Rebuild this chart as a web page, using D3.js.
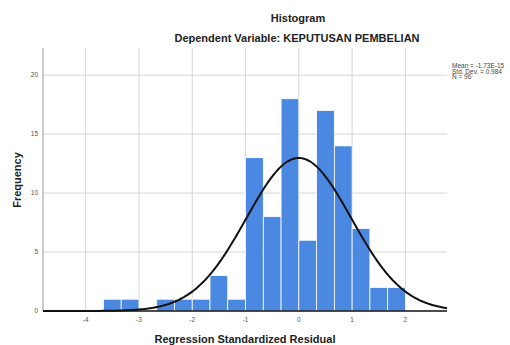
<!DOCTYPE html>
<html>
<head>
<meta charset="utf-8">
<script src="https://cdn.jsdelivr.net/npm/d3@7"></script>
<style>
  body { margin: 0; background: #fff; }
  svg { display: block; font-family: Arial, "Liberation Sans", sans-serif; }
</style>
</head>
<body>
<svg id="chart" width="510" height="345"></svg>
<script>
// histogram data
const binStart = -11 / 3;
const binWidth = 1 / 3;
const counts = [1, 1, 0, 1, 1, 1, 3, 1, 13, 8, 18, 6, 17, 14, 7, 2, 2];
const xTicks = [-4, -3, -2, -1, 0, 1, 2];
const yTicks = [0, 5, 10, 15, 20];
const stats = { mean: -1.73e-15, sd: 0.984, n: 96 };
const legendLines = ['Mean = -1.73E-15', 'Std. Dev. = 0.984', 'N = 96'];

const svg = d3.select('#chart');
const pLeft = 43, pRight = 447, pTop = 48, pBottom = 311;

const x = d3.scaleLinear().domain([-4.8, 2.78]).range([pLeft, pRight]);
const y = d3.scaleLinear().domain([0, 22.3]).range([pBottom, pTop]);

// grid
svg.append('g').selectAll('line')
  .data(yTicks.filter(d => d > 0))
  .enter().append('line')
  .attr('x1', pLeft).attr('x2', pRight)
  .attr('y1', d => y(d)).attr('y2', d => y(d))
  .style('stroke', '#d6d6d6').style('stroke-width', 1);

svg.append('g').selectAll('line')
  .data(xTicks)
  .enter().append('line')
  .attr('x1', d => x(d)).attr('x2', d => x(d))
  .attr('y1', pTop).attr('y2', pBottom)
  .style('stroke', '#d6d6d6').style('stroke-width', 1);

// bars
const bins = counts.map((c, i) => ({
  x0: binStart + i * binWidth,
  x1: binStart + (i + 1) * binWidth,
  count: c
}));

svg.append('g').selectAll('rect')
  .data(bins.filter(d => d.count > 0))
  .enter().append('rect')
  .attr('x', d => x(d.x0))
  .attr('width', d => x(d.x1) - x(d.x0))
  .attr('y', d => y(d.count))
  .attr('height', d => y(0) - y(d.count))
  .style('fill', '#4a88e2')
  .style('stroke', '#fff')
  .style('stroke-width', 0.8);

// normal curve
const pdf = v => Math.exp(-0.5 * Math.pow((v - stats.mean) / stats.sd, 2)) / (stats.sd * Math.sqrt(2 * Math.PI));
const curvePts = d3.range(x.domain()[0], x.domain()[1] + 0.001, 0.02)
  .map(v => [v, stats.n * binWidth * pdf(v)]);

svg.append('path')
  .datum(curvePts)
  .attr('d', d3.line().x(d => x(d[0])).y(d => y(d[1])).curve(d3.curveBasis))
  .style('fill', 'none')
  .style('stroke', '#111')
  .style('stroke-width', 2);

// axes lines
svg.append('line')
  .attr('x1', pLeft).attr('x2', pLeft).attr('y1', pTop).attr('y2', pBottom)
  .style('stroke', '#9a9a9a').style('stroke-width', 1);
svg.append('line')
  .attr('x1', pLeft).attr('x2', pRight).attr('y1', pBottom).attr('y2', pBottom)
  .style('stroke', '#111').style('stroke-width', 1.6);

// tick labels
svg.append('g').selectAll('text')
  .data(yTicks)
  .enter().append('text')
  .attr('x', pLeft - 5).attr('y', d => y(d) + 2)
  .attr('text-anchor', 'end')
  .style('font-size', '6.5px').style('fill', '#555')
  .text(d => d);

svg.append('g').selectAll('text')
  .data(xTicks)
  .enter().append('text')
  .attr('x', d => x(d)).attr('y', pBottom + 11)
  .attr('text-anchor', 'middle')
  .style('font-size', '6.5px').style('fill', '#555')
  .text(d => d);

// titles
svg.append('text')
  .attr('x', 298).attr('y', 22)
  .attr('text-anchor', 'middle')
  .style('font-size', '11px').style('font-weight', 'bold').style('fill', '#222')
  .text('Histogram');

svg.append('text')
  .attr('x', 297).attr('y', 42)
  .attr('text-anchor', 'middle')
  .style('font-size', '11px').style('font-weight', 'bold').style('fill', '#222')
  .text('Dependent Variable: KEPUTUSAN PEMBELIAN');

svg.append('text')
  .attr('transform', 'translate(21,180) rotate(-90)')
  .attr('text-anchor', 'middle')
  .style('font-size', '11px').style('font-weight', 'bold').style('fill', '#222')
  .text('Frequency');

svg.append('text')
  .attr('x', 245).attr('y', 343)
  .attr('text-anchor', 'middle')
  .style('font-size', '11px').style('font-weight', 'bold').style('fill', '#222')
  .text('Regression Standardized Residual');

// stats legend
svg.append('g').selectAll('text')
  .data(legendLines)
  .enter().append('text')
  .attr('x', 452).attr('y', (d, i) => 68 + i * 5.5)
  .style('font-size', '6.5px').style('fill', '#444')
  .text(d => d);
</script>
</body>
</html>
